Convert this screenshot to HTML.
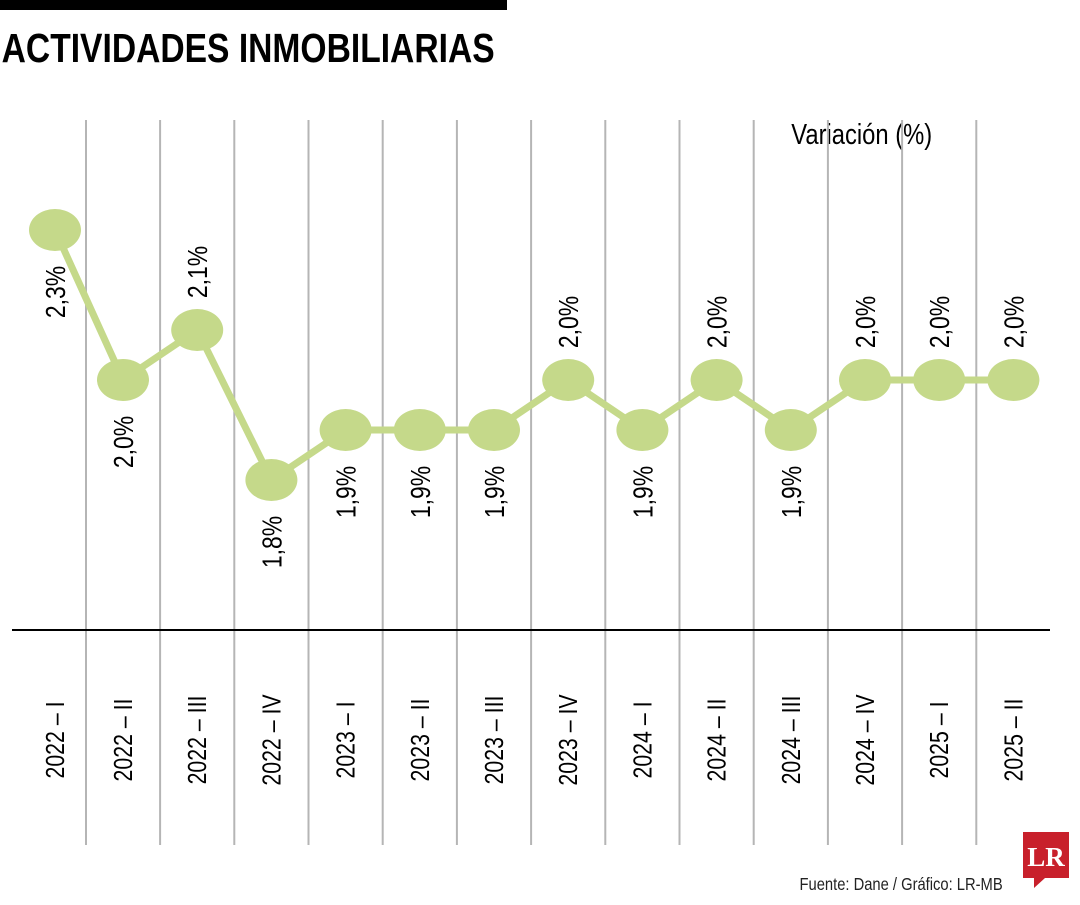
<!DOCTYPE html>
<html><head><meta charset="utf-8"><style>
body{margin:0;background:#fff;width:1080px;height:900px;overflow:hidden}
svg text{font-family:"Liberation Sans",sans-serif}
</style></head><body>
<svg id="c" width="1080" height="900" xmlns="http://www.w3.org/2000/svg">
<rect x="0" y="0" width="507" height="10" fill="#000"/>
<text x="2" y="62" font-size="41" font-weight="bold" transform="scale(0.82,1)">ACTIVIDADES INMOBILIARIAS</text>
<text x="965" y="144" font-size="29" transform="scale(0.82,1)">Variación (%)</text>
<g id="grid"></g>
<line x1="12" y1="630" x2="1050" y2="630" stroke="#000" stroke-width="2"/>
<g id="marks"></g>
<text x="975" y="890" font-size="18" transform="scale(0.82,1)" fill="#222">Fuente: Dane / Gráfico: LR-MB</text>
<g>
<path d="M1023 832 H1069 V878 H1045 L1034 888 V878 H1023 Z" fill="#c8202b"/>
<text x="1046" y="866" font-size="27" font-weight="bold" fill="#fff" text-anchor="middle" style="font-family:'Liberation Serif',serif">LR</text>
</g>
</svg>
<script>
const categories=["2022 – I","2022 – II","2022 – III","2022 – IV","2023 – I","2023 – II","2023 – III","2023 – IV","2024 – I","2024 – II","2024 – III","2024 – IV","2025 – I","2025 – II"];
const values=[2.3,2.0,2.1,1.8,1.9,1.9,1.9,2.0,1.9,2.0,1.9,2.0,2.0,2.0];
const valueLabels=["2,3%","2,0%","2,1%","1,8%","1,9%","1,9%","1,9%","2,0%","1,9%","2,0%","1,9%","2,0%","2,0%","2,0%"];
const labelSide=["below","below","above","below","below","below","below","above","below","above","below","above","above","above"];
const NS="http://www.w3.org/2000/svg";
const step=74.2;
function xPos(i){return i===0?55:123+(i-1)*step;}
function yPos(v){return 380-(v-2.0)*500;}
function mk(t,a,p){const e=document.createElementNS(NS,t);for(const k in a)e.setAttribute(k,a[k]);p.appendChild(e);return e;}
const grid=document.getElementById('grid'),marks=document.getElementById('marks');
for(let i=1;i<categories.length;i++){
 const x=(xPos(i-1)+xPos(i))/2+(i===1?-3:0);
 const l=mk('line',{x1:x,y1:120,x2:x,y2:845,stroke:'#b5b5b5','stroke-width':2},grid);
 
 
}
categories.forEach((c,i)=>{
 const x=xPos(i);
 const t=mk('text',{x:0,y:0,'font-size':26,'text-anchor':'middle',transform:`translate(${x+9},740) rotate(-90) scale(0.82,1)`},grid);
 t.textContent=c;
 
 
});
const pts=values.map((v,i)=>xPos(i)+','+yPos(v)).join(' ');
const pl=mk('polyline',{points:pts,fill:'none',stroke:'#c5d98a','stroke-width':7,'stroke-linejoin':'round'},marks);


values.forEach((v,i)=>{
 const x=xPos(i),y=yPos(v);
 const e=mk('ellipse',{cx:x,cy:y,rx:26,ry:21,fill:'#c5d98a'},marks);
 
 
 const ly=labelSide[i]==='above'?y-58:y+62;
 const t=mk('text',{x:0,y:0,'font-size':28,'text-anchor':'middle',transform:`translate(${x+10},${ly}) rotate(-90) scale(0.82,1)`},marks);
 t.textContent=valueLabels[i];
 
 
});
</script>
</body></html>
